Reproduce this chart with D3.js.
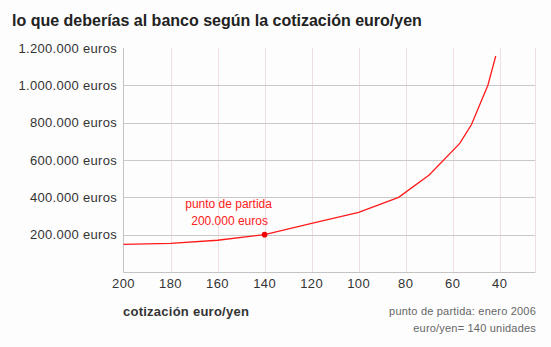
<!DOCTYPE html>
<html>
<head>
<meta charset="utf-8">
<script src="https://cdn.jsdelivr.net/npm/d3@7"></script>
<style>
  html, body { margin: 0; padding: 0; background: #fdfdfd; }
  svg { display: block; font-family: "Liberation Sans", Arial, Helvetica, sans-serif; }
</style>
</head>
<body>
<svg id="chart" width="551" height="347"></svg>
<script>
// euro/yen exchange rate and the resulting debt in euros
const rates  = [200, 180, 160, 140, 120, 100, 83, 70, 57, 52, 45, 41.7];
const debts  = [148000, 153000, 170000, 200000, 261000, 320000, 400000, 520000, 689000, 790000, 1002000, 1157000];
const xTicks = [200, 180, 160, 140, 120, 100, 80, 60, 40];
const yTicks = [200000, 400000, 600000, 800000, 1000000, 1200000];
const startRate = 140;
const startDebt = 200000;

const svg = d3.select("#chart");
const plotL = 123.5, plotR = 535, plotT = 48, plotB = 272;

const x = d3.scaleLinear().domain([200, 25]).range([plotL, plotR]);
const y = d3.scaleLinear().domain([0, 1200000]).range([plotB, plotT]);

const fmt = v => d3.format(",")(v).replace(/,/g, ".") + " euros";

// title
svg.append("text")
  .attr("x", 12).attr("y", 26)
  .attr("font-size", 16).attr("font-weight", "bold").attr("fill", "#222")
  .text("lo que deberías al banco según la cotización euro/yen");

// vertical grid
svg.append("g").selectAll("line")
  .data(xTicks.slice(1).concat([25]))
  .join("line")
  .attr("x1", d => Math.round(x(d)) + 0.5).attr("x2", d => Math.round(x(d)) + 0.5)
  .attr("y1", plotT).attr("y2", plotB)
  .attr("stroke", "#f1dfdf").attr("stroke-width", 1);

// horizontal grid
svg.append("g").selectAll("line")
  .data(yTicks.filter(d => d < 1200000))
  .join("line")
  .attr("x1", plotL).attr("x2", plotR)
  .attr("y1", d => Math.round(y(d)) + 0.5).attr("y2", d => Math.round(y(d)) + 0.5)
  .attr("stroke", "#c9c9c9").attr("stroke-width", 1);

// axes lines
svg.append("line")
  .attr("x1", plotL).attr("x2", plotL).attr("y1", plotT).attr("y2", plotB + 0.5)
  .attr("stroke", "#c4c4c4");
svg.append("line")
  .attr("x1", plotL).attr("x2", plotR + 0.5).attr("y1", plotB + 0.5).attr("y2", plotB + 0.5)
  .attr("stroke", "#c4c4c4");

// y tick labels
svg.append("g").selectAll("text")
  .data(yTicks)
  .join("text")
  .attr("x", 117).attr("y", d => y(d) + 4.5)
  .attr("text-anchor", "end")
  .attr("font-size", 13).attr("letter-spacing", "0.3px").attr("fill", "#333")
  .text(fmt);

// x tick labels
svg.append("g").selectAll("text")
  .data(xTicks)
  .join("text")
  .attr("x", d => x(d)).attr("y", 288)
  .attr("text-anchor", "middle")
  .attr("font-size", 13).attr("letter-spacing", "0.4px").attr("fill", "#333")
  .text(d => d);

// debt curve
const line = d3.line().x((d, i) => x(rates[i])).y(d => y(d));
svg.append("path")
  .datum(debts)
  .attr("d", line)
  .attr("fill", "none")
  .attr("stroke", "#ff1a1a")
  .attr("stroke-width", 1.3);

// starting point
svg.append("circle")
  .attr("cx", x(startRate)).attr("cy", y(startDebt)).attr("r", 2.8)
  .attr("fill", "#ee0000");

svg.append("text")
  .attr("x", x(startRate) - 36).attr("y", 208)
  .attr("text-anchor", "middle").attr("font-size", 12).attr("fill", "#ff2020")
  .text("punto de partida");
svg.append("text")
  .attr("x", x(startRate) - 35).attr("y", 225)
  .attr("text-anchor", "middle").attr("font-size", 12).attr("fill", "#ff2020")
  .text(fmt(startDebt));

// axis title
svg.append("text")
  .attr("x", 123).attr("y", 316)
  .attr("font-size", 13).attr("font-weight", "bold").attr("letter-spacing", "0.25px").attr("fill", "#333")
  .text("cotización euro/yen");

// notes
const notes = ["punto de partida: enero 2006", "euro/yen= 140 unidades"];
svg.append("g").selectAll("text")
  .data(notes)
  .join("text")
  .attr("x", 536).attr("y", (d, i) => 315 + i * 17)
  .attr("text-anchor", "end")
  .attr("font-size", 11).attr("letter-spacing", "0.2px").attr("fill", "#666")
  .text(d => d);
</script>
</body>
</html>
